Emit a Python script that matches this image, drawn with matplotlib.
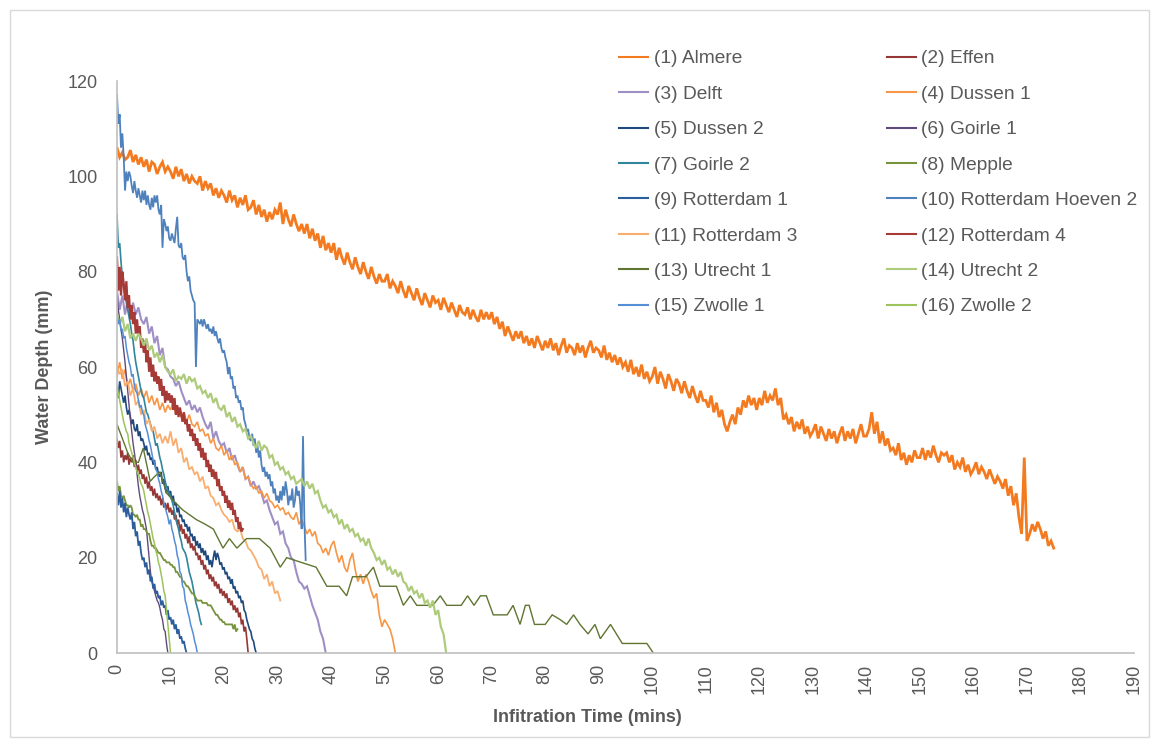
import numpy as np
import matplotlib.pyplot as plt
from matplotlib.patches import Rectangle
from matplotlib.lines import Line2D

plt.rcParams['font.family'] = ['Liberation Sans', 'DejaVu Sans']

almere = [
    106, 104, 105, 103.5, 104, 105.5, 103, 104.5, 102.5, 104,
    102, 103.5, 101, 103, 102.5, 100.5, 102, 103, 101, 102,
    101, 99.5, 102, 100, 101.5, 99, 100.5, 98.5, 100, 99,
    98.5, 100, 97, 99, 97.5, 98.5, 96, 97.5, 95.5, 97,
    96, 94.5, 97, 95, 96, 93.5, 95.5, 94, 96, 93,
    93.5, 95, 92, 94, 91.5, 93, 90.5, 92.5, 91, 93,
    92, 94.5, 90, 93, 91, 89.5, 92, 90, 88.5, 90,
    88, 90, 87, 89, 86.5, 88, 85, 87.5, 84.5, 86,
    84, 86, 82.5, 85, 83, 81.5, 84, 82, 80.5, 83,
    81, 79.5, 82, 80, 78.5, 81, 79, 77.5, 79.5, 78,
    78, 79.5, 76.5, 78, 77, 75.5, 78, 76, 74.5, 77,
    75.5, 74, 76.5, 74.5, 73, 75.5, 74, 72.5, 75, 73.5,
    74, 72, 74.5, 73, 71.5, 73.5, 72, 70.5, 73, 71.5,
    71, 72.5, 70, 72, 70.5, 69.5, 72, 70, 71.5, 70,
    71.5, 69, 70.5, 68, 69.5, 66.5, 68.5, 67, 65.5, 67.5,
    66, 67.5, 65, 66.5, 64.5, 66, 64, 66.5, 65, 63.5,
    65.5, 64, 66, 63.5, 65, 62.5, 64.5, 66, 63, 64.5,
    64, 62.5, 65, 63, 64.5, 62, 64, 65.5, 63, 64,
    63.5, 62, 64.5, 61.5, 63, 61, 62.5, 60.5, 62, 60,
    61, 59, 61.5, 58.5, 60, 58, 60.5, 57.5, 59, 57,
    58, 60, 56.5, 59, 57.5, 55.5, 58.5, 57, 55, 57.5,
    56.5, 54.5, 57, 55, 53.5, 56, 54, 52.5, 55, 53,
    53, 51.5, 54, 50.5, 52.5, 49.5, 51, 48, 46.5, 48.5,
    50, 48, 51.5, 50, 53, 51.5, 54, 52, 53.5, 51,
    53.5, 52, 55, 52.5, 54, 53, 55.5, 52, 53.5, 49,
    50, 48, 49.5, 46.5, 48.5, 47, 49, 46, 47.5, 45.5,
    46.5, 48, 45, 47.5, 46, 44.5, 47, 45, 46.5, 44,
    46, 47.5, 44.5, 46.5, 45, 47, 44, 46, 48, 45.5,
    45.5, 47, 50.5, 46, 48.5, 44, 46.5, 43.5, 45, 42.5,
    43, 41.5, 44, 40.5, 42, 39.5, 41.5, 40, 42.5, 41,
    41, 43, 40.5, 42.5, 41, 43.5, 41.5, 40, 42, 41.5,
    42, 40, 41.5, 38.5, 40, 39, 41, 38, 39.5, 37.5,
    38.5, 40, 37.5, 39, 38, 36.5, 38.5, 37, 35.5, 37,
    36, 34.5, 36.5, 33, 35, 31, 33.5, 28.5, 25, 41,
    23.5, 25, 27, 25.5, 27.5, 26, 24, 25.5, 22.5, 23.5,
    22,
]

effen = [
    45, 43, 44.5, 41, 42.5, 40, 41.5, 40.5, 42, 39.5,
    41, 40, 41.5, 39, 40.5, 38, 39.5, 37.5, 38.5, 36.5,
    37.5, 35.5, 37, 34.5, 36, 34, 35, 33, 34.5, 32.5,
    33.5, 32, 33, 31, 32.5, 30.5, 31.5, 30, 31.5, 29.5,
    30.5, 29, 30, 28, 29, 27, 28, 25.5, 27, 25,
    26, 24, 25, 23, 24.5, 22, 23, 21.5, 22.5, 20.5,
    21, 19.5, 20.5, 18.5, 19.5, 17.5, 18.5, 16.5, 17.5, 15.5,
    16.5, 15, 16, 14, 15, 13.5, 14.5, 12.5, 13.5, 12,
    13, 11.5, 12.5, 10.5, 11.5, 10, 11, 9, 10, 8.5,
    9.5, 7.5, 8.5, 6, 7, 4.5, 5.5, 3, 0,
]

delft = [
    76, 72, 75, 71, 74, 70.5, 73.5, 71, 72.5, 70,
    69, 70.5, 67, 68.5, 65, 66.5, 62.5, 64, 60, 59.5,
    58, 57.5, 56, 57, 55, 53.5, 52, 53, 51, 52,
    50.5, 51.5, 49.5, 48, 47, 48.5, 45, 46.5, 44.5, 43.5,
    44, 42, 43, 40.5, 41.5, 39.5, 38, 39, 36.5, 37,
    35, 36, 34.5, 35, 33.5, 31.5, 32, 30, 28.5, 27,
    27.5, 25, 25.5, 23, 22, 20, 19.5, 17, 15, 14.5,
    13.5, 14, 12, 10, 8.5, 7, 4.5, 3, 0,
]

dussen_1 = [
    58, 61, 57.5, 59.5, 56, 57.5, 55, 56.5, 54, 55.5,
    53.5, 55, 52.5, 54, 52, 53.5, 51, 52.5, 50.5, 52,
    51, 52.5, 50, 51.5, 49.5, 50.5, 48.5, 50, 48, 47.5,
    48.5, 46.5, 47, 45.5, 46, 44, 45, 43, 42.5, 43.5,
    41.5, 42.5, 40.5, 41.5, 39.5, 40, 38, 39, 36.5, 37,
    35.5, 34.5, 35, 33.5, 34, 32.5, 33.5, 32, 31.5, 30.5,
    31, 30, 30.5, 29, 29.5, 28.5, 28, 29.5, 27, 28,
    26.5, 25, 26, 24.5, 25.5, 23, 22.5, 21, 22, 20.5,
    22.5, 23.5, 21, 19, 20.5, 18, 17, 19.5, 21, 17.5,
    15, 16.5, 14.5, 16.5, 15, 13, 11.5, 12.5, 8, 5.5,
    7, 6, 5, 3, 0,
]

dussen_2 = [
    55, 53.5, 57, 55.5, 54, 52.5, 54, 51.5, 50, 51,
    49.5, 48, 49, 47, 46.5, 48, 45.5, 46.5, 44.5, 45,
    44, 42.5, 43.5, 41.5, 42, 40.5, 41, 39.5, 40.5, 38.5,
    39, 37.5, 37, 38, 35.5, 36.5, 34.5, 33.5, 35, 33,
    34, 32, 33, 31, 31.5, 29.5, 30.5, 28.5, 29, 27.5,
    28, 26.5, 27, 25.5, 26.5, 24.5, 25, 23.5, 24.5, 22.5,
    23.5, 22, 23, 21, 22, 20.5, 21.5, 19.5, 20.5, 18.5,
    19.5, 18, 20, 21.5, 19.5, 21, 20, 18.5, 19, 17.5,
    18, 16.5, 17, 15.5, 16, 14.5, 15.5, 13.5, 14, 12.5,
    13, 11.5, 12, 10.5, 11, 9, 8.5, 7, 6, 5,
    4.5, 3, 2.5, 1, 0,
]

goirle_1 = [
    75, 72, 70, 68, 66, 63.5, 61, 58, 55, 52,
    49, 46.5, 44, 42, 40, 37.5, 35, 33, 31.5, 30,
    29, 27.5, 26, 23, 20, 17, 15, 14, 13, 12,
    11, 10.5, 9.5, 8, 7, 5, 4.5, 2, 0,
]

goirle_2 = [
    92, 85, 86, 82, 79, 77, 75, 73.5, 72, 70.5,
    69, 67, 65.5, 63, 61, 59.5, 58, 56.5, 55, 54,
    53.5, 52, 50.5, 50, 49, 48, 47, 46.5, 45, 43.5,
    44, 42.5, 41, 40, 38.5, 37.5, 36, 35, 34, 33.5,
    33, 32, 31, 29.5, 28, 27, 26, 24.5, 23.5, 22,
    21.5, 21, 20, 18.5, 17, 16, 15, 13.5, 12, 10.5,
    9.5, 8.5, 7, 6,
]

mepple = [
    36, 34, 35, 33, 32.5, 33, 32, 31, 31, 30.5,
    31, 30.5, 29, 29, 28.5, 29, 28, 28, 26.5, 27,
    26, 26, 25.5, 25, 25, 23.5, 22.5, 22.5, 22, 22,
    21.5, 21, 21, 20.5, 20, 19.5, 19.5, 19, 19, 19,
    18.5, 18.5, 18, 18, 17, 17, 16.5, 16, 16, 15,
    15, 14.5, 14, 14, 13.5, 13, 12.5, 12.5, 12, 11.5,
    11, 11, 11, 11, 10.5, 10.5, 10.5, 10.5, 10, 10,
    10, 9.5, 9, 8.5, 8, 8, 7.5, 7, 7, 6.5,
    6.5, 6, 6, 6, 6, 6, 6, 5, 6, 4.5,
    5,
]

rotterdam_1 = [
    33.5, 31, 34, 30.5, 32.5, 29.5, 31.5, 28.5, 30.5, 29,
    28, 29.5, 26, 27.5, 24.5, 25.5, 22.5, 23.5, 21, 19.5,
    20, 18, 19, 16.5, 17.5, 15, 16, 13.5, 14.5, 12.5,
    13, 11.5, 12, 10, 11, 9.5, 10, 8, 9, 7,
    7.5, 6, 7, 5, 6, 4, 5, 3, 3.5, 2,
    2.5, 1, 0,
]

rotterdam_hoeven_2 = [
    117, 111, 113, 106, 109, 104, 97, 101, 99, 101,
    100, 98, 96.5, 99, 97, 95.5, 97.5, 96, 94.5, 97,
    95, 97, 94, 96, 94, 93, 95.5, 93.5, 96, 94.5,
    96, 93, 92, 94, 85, 91, 90, 88.5, 89.5, 87,
    86.5, 88, 87, 86, 89, 91.5, 85.5, 85, 86, 83,
    82.5, 83.5, 80, 78, 79, 76, 75, 74, 73.5, 60,
    70, 69.5, 69, 70, 68.5, 70, 69, 68, 69, 67.5,
    68, 67, 68.5, 66.5, 67.5, 66, 65, 66, 64, 63,
    63.5, 62, 61, 58.5, 60, 57.5, 58, 55.5, 56, 53.5,
    54, 52.5, 53, 51, 51.5, 49, 48, 46.5, 47, 45,
    44.5, 46, 43.5, 45, 42, 43.5, 41, 42.5, 39.5, 38,
    39, 37, 38, 36.5, 37.5, 35, 36, 33.5, 34.5, 32,
    33, 31.5, 34, 32, 35, 33, 36, 34, 31, 33,
    32, 34.5, 30.5, 32, 35, 33, 34, 31, 26, 45.5,
    28, 19.5,
]

rotterdam_3 = [
    60, 58.5, 59.5, 56, 57, 54, 55.5, 52, 53, 50,
    51, 48, 49, 46.5, 47.5, 45, 46, 44, 45.5, 44,
    46.5, 43.5, 45, 42, 43, 40, 41, 38.5, 39, 37.5,
    38, 36, 37, 34.5, 35, 33, 32.5, 31, 31.5, 30,
    29, 28.5, 27.5, 28, 26, 25.5, 26, 24, 23.5, 22,
    21.5, 20.5, 19.5, 18, 17.5, 15.5, 16.5, 14, 15, 12.5,
    13, 11,
]

rotterdam_4 = [
    83, 76, 81, 75, 80, 77.5, 74, 78, 72.5, 75,
    70, 73, 69, 71.5, 67, 70, 66.5, 68.5, 64, 66,
    63, 65.5, 61, 63.5, 59, 62, 58, 60.5, 57, 59,
    56.5, 58, 55, 57.5, 54, 56, 52.5, 55, 53, 54.5,
    52.5, 54, 51, 53.5, 50, 52, 49.5, 51.5, 50, 48.5,
    50.5, 48, 49, 46.5, 48, 45.5, 47, 44.5, 46, 43.5,
    45, 42.5, 44, 41, 43, 40.5, 42, 39, 40.5, 38,
    39.5, 37, 38.5, 36.5, 38, 35, 36.5, 34, 35, 33,
    34, 31.5, 33, 30.5, 32, 30, 31.5, 29, 30, 27.5,
    28.5, 26, 27.5, 25.5, 26,
]

utrecht_1_time = [
    0, 1, 2, 3, 4, 4.9, 6.2, 7, 8, 9.3,
    10.5, 12.3, 14.8, 16.5, 18, 19.8, 21, 22.4, 24.2, 26.6,
    28.6, 30.5, 31.7, 37.2, 39.2, 41.5, 42.9, 44, 46.5, 47.9,
    49.1, 52.2, 53.5, 54.8, 56, 59, 60.4, 61.6, 64.3, 65.5,
    66.7, 67.9, 69, 70.3, 72.9, 74, 75.3, 76.3, 77, 78,
    80, 81.3, 82.8, 84, 85.3, 86.5, 88, 89.3, 90.3, 92.2,
    94.4, 99, 100.2,
]
utrecht_1 = [
    48, 45, 42, 40, 40, 43, 36, 37, 38, 33.5,
    32, 30, 28, 27, 26, 22, 24, 22, 24, 24,
    22, 18, 20, 18, 14, 14, 12, 16, 16, 18,
    14, 14, 10, 12, 10, 10, 12, 10, 10, 12,
    10, 12, 12, 8, 8, 10, 6, 10, 10, 6,
    6, 8, 7, 6, 8, 6, 4, 6, 3, 6,
    2, 2, 0,
]

utrecht_2 = [
    71, 69, 70.5, 67.5, 69, 66, 67, 65.5, 67, 66,
    64.5, 66, 63.5, 64.5, 62, 63, 61, 62.5, 60, 59,
    58.5, 59.5, 57, 58, 57.5, 58.5, 56.5, 58, 57, 57.5,
    55.5, 56, 54.5, 55, 53.5, 54.5, 52.5, 53.5, 51.5, 51,
    52, 49.5, 50.5, 48.5, 49.5, 47.5, 48, 46.5, 47, 45,
    45.5, 44, 43, 44.5, 42.5, 43.5, 43, 41, 41.5, 39.5,
    40, 38.5, 39, 37.5, 38, 36.5, 37, 35.5, 36, 36.5,
    35, 36, 34.5, 35.5, 33.5, 34, 32, 30.5, 31, 29.5,
    30, 28.5, 29, 27, 28, 26, 27, 25.5, 26, 24.5,
    25, 23.5, 24, 22.5, 24, 22, 21, 19.5, 20, 18.5,
    19.5, 17.5, 18, 16.5, 17.5, 16, 17, 15, 14.5, 13,
    14, 12.5, 13, 11.5, 12.5, 10.5, 11, 9.5, 11, 8,
    9, 5.5, 4, 0,
]

zwolle_1 = [
    71, 69, 70, 67.5, 68, 66, 66.5, 64, 62.5, 61,
    60, 58, 58.5, 56, 55, 54.5, 53, 51.5, 52, 50.5,
    50, 48, 47, 46, 44.5, 43.5, 42, 40.5, 40, 38.5,
    38, 36.5, 35.5, 34, 33, 31.5, 30.5, 29.5, 28.5, 27,
    28, 26, 25, 23.5, 22.5, 20.5, 19.5, 17, 16.5, 14,
    13.5, 11, 10, 8.5, 7.5, 6, 5, 4, 2.5, 1.5,
    0,
]

zwolle_2 = [
    56, 54.5, 53, 51.5, 50, 48.5, 47.5, 46.5, 46, 44,
    43, 42, 41, 40, 39, 38, 37.5, 36.5, 35.5, 35,
    34, 32.5, 31, 29.5, 28.5, 27, 25.5, 24, 23, 21.5,
    20.5, 19, 18, 16.5, 15, 13, 12, 9, 6, 3,
    0,
]


def times(values, step):
    return np.arange(len(values)) * step


# label, time, depth, colour, line width
series = [
    ("(1) Almere", times(almere, 0.5), almere, '#F47A1F', 2.0),
    ("(2) Effen", times(effen, 0.25), effen, '#953735', 1.2),
    ("(3) Delft", times(delft, 0.5), delft, '#A08FC4', 1.5),
    ("(4) Dussen 1", times(dussen_1, 0.5), dussen_1, '#F79646', 1.2),
    ("(5) Dussen 2", times(dussen_2, 0.25), dussen_2, '#1F497D', 1.2),
    ("(6) Goirle 1", times(goirle_1, 0.25), goirle_1, '#604A7B', 1.0),
    ("(7) Goirle 2", times(goirle_2, 0.25), goirle_2, '#31859C', 1.2),
    ("(8) Mepple", times(mepple, 0.25), mepple, '#77933C', 1.3),
    ("(9) Rotterdam 1", times(rotterdam_1, 0.25), rotterdam_1, '#2C5E9E', 1.3),
    ("(10) Rotterdam Hoeven 2", times(rotterdam_hoeven_2, 0.25), rotterdam_hoeven_2, '#4F81BD', 1.3),
    ("(11) Rotterdam 3", times(rotterdam_3, 0.5), rotterdam_3, '#F9AE70', 1.3),
    ("(12) Rotterdam 4", times(rotterdam_4, 0.25), rotterdam_4, '#A53A36', 1.6),
    ("(13) Utrecht 1", utrecht_1_time, utrecht_1, '#5F7530', 1.0),
    ("(14) Utrecht 2", times(utrecht_2, 0.5), utrecht_2, '#AECB7C', 1.6),
    ("(15) Zwolle 1", times(zwolle_1, 0.25), zwolle_1, '#558ED5', 1.1),
    ("(16) Zwolle 2", times(zwolle_2, 0.25), zwolle_2, '#9DC35C', 1.1),
]

W, H = 1159, 747
fig = plt.figure(figsize=(W / 100, H / 100), dpi=100)
ax = fig.add_axes([117 / W, 1 - 653 / H, (1134 - 117) / W, (653 - 81) / H])

handles = []
for label, t, y, color, lw in series:
    ax.plot(t, y, color=color, lw=lw, solid_joinstyle='miter')
    handles.append(Line2D([], [], color=color, lw=1.5, label=label))

grey = '#595959'
ax.set_xlim(0, 190)
ax.set_ylim(0, 120)
ax.set_xticks(range(0, 191, 10))
ax.set_yticks(range(0, 121, 20))
ax.tick_params(length=0, labelsize=13, colors=grey)
ax.tick_params(axis='x', rotation=90, pad=8)
ax.tick_params(axis='y', pad=14)
for s in ['top', 'right']:
    ax.spines[s].set_visible(False)
for s in ['left', 'bottom']:
    ax.spines[s].set_color('#BFBFBF')
    ax.spines[s].set_linewidth(1.2)

fig.text(45 / W, 1 - 367 / H, "Water Depth (mm)", rotation=90, ha='center', va='center',
         fontsize=13, fontweight='bold', color=grey)
fig.text(587 / W, 1 - 718 / H, "Infitration Time (mins)", ha='center', va='center',
         fontsize=13, fontweight='bold', color=grey)

# row-wise order for a 2-column legend
order = handles[0::2] + handles[1::2]
fig.legend(handles=order, ncol=2, loc='upper left', bbox_to_anchor=(619 / W, 1 - 50 / H),
           frameon=False, fontsize=13.8, labelcolor=grey, handlelength=1.5,
           handletextpad=0.3, columnspacing=4.7, labelspacing=0.94, borderpad=0,
           borderaxespad=0)

fig.patches.append(Rectangle((10 / W, 10 / H), 1139 / W, 727 / H, transform=fig.transFigure,
                             fill=False, edgecolor='#D9D9D9', lw=1))

fig.savefig('out.png', dpi=100)
